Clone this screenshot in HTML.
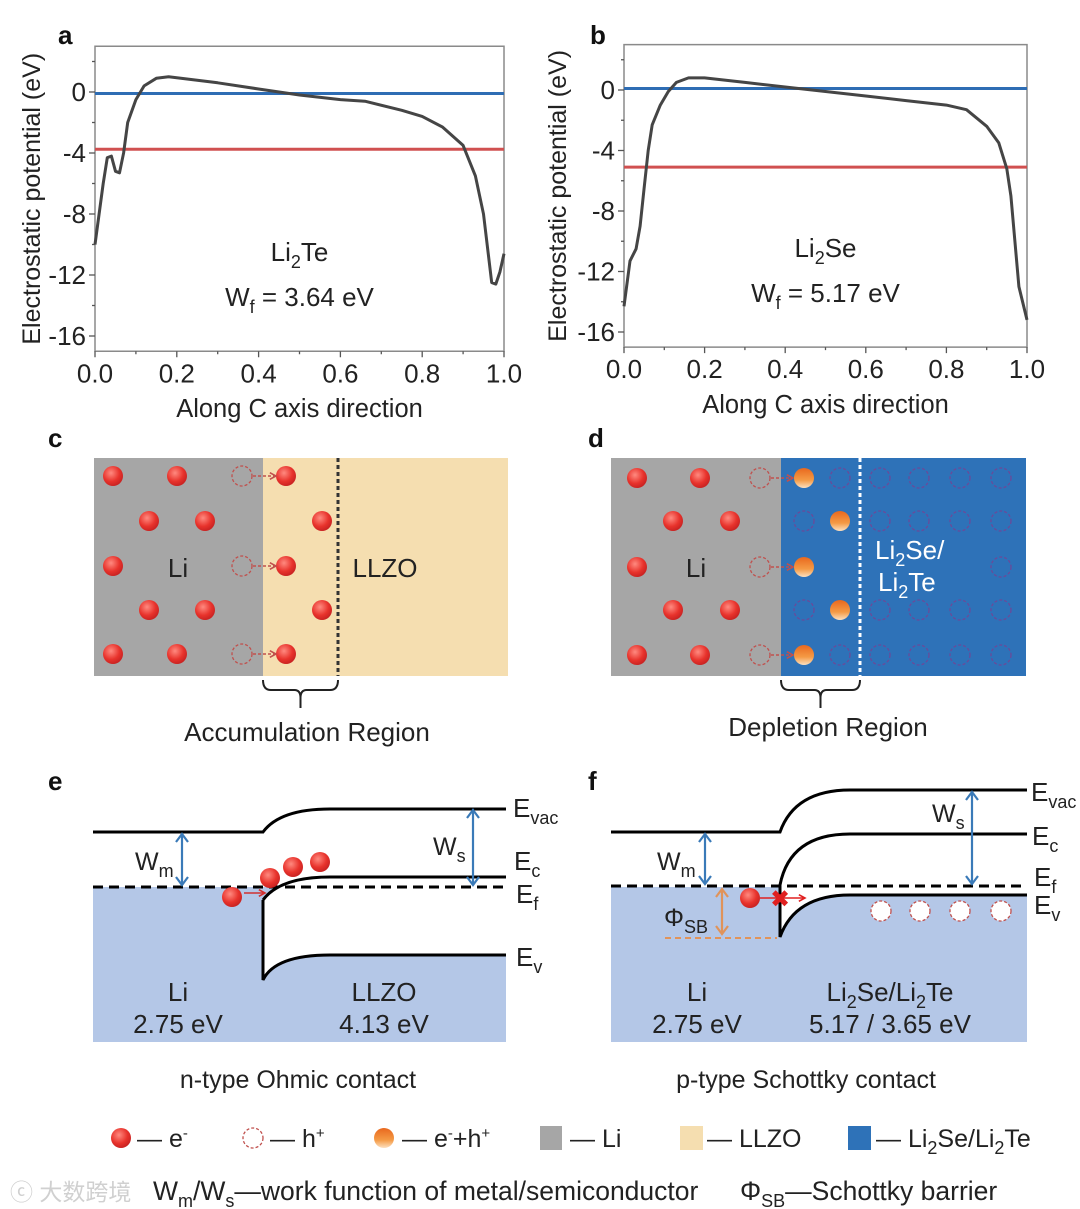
<!DOCTYPE html>
<html><head><meta charset="utf-8"><style>
body{margin:0;background:#fff;}
svg{display:block;font-family:"Liberation Sans","Noto Sans CJK SC",sans-serif;}
</style></head><body>
<svg id="fig" width="1080" height="1209" viewBox="0 0 1080 1209">
<defs>
<radialGradient id="gE" cx="0.4" cy="0.35" r="0.7"><stop offset="0" stop-color="#ff8a80"/><stop offset="0.6" stop-color="#e8332c"/><stop offset="1" stop-color="#c42020"/></radialGradient>
<linearGradient id="gO" x1="0" y1="0" x2="0" y2="1"><stop offset="0" stop-color="#e8681e"/><stop offset="0.6" stop-color="#f49a45"/><stop offset="1" stop-color="#fde0c0"/></linearGradient>
</defs>
<g id="plots"></g>
<g id="diagrams"></g>
</svg>
<script>
// ---- chart data ----
const xTicks=[0,0.2,0.4,0.6,0.8,1.0];
const xTickLabels=["0.0","0.2","0.4","0.6","0.8","1.0"];
const yTicks=[0,-4,-8,-12,-16];
const yTickLabels=["0","-4","-8","-12","-16"];
const aX=[0,0.01,0.02,0.03,0.04,0.05,0.06,0.07,0.08,0.1,0.12,0.15,0.18,0.3,0.4,0.5,0.6,0.66,0.75,0.8,0.85,0.9,0.93,0.95,0.97,0.98,0.99,1.0];
const aY=[-10,-8,-6,-4.3,-4.2,-5.2,-5.3,-4,-2,-0.5,0.4,0.9,1.0,0.6,0.2,-0.2,-0.5,-0.6,-1.2,-1.6,-2.3,-3.5,-5.5,-8,-12.5,-12.6,-11.8,-10.6];
const aBlue=-0.1, aRed=-3.75;
const bX=[0,0.015,0.03,0.04,0.05,0.06,0.07,0.09,0.11,0.13,0.16,0.2,0.3,0.4,0.5,0.6,0.7,0.8,0.85,0.9,0.93,0.95,0.96,0.97,0.98,1.0];
const bY=[-14.3,-11.3,-10.5,-9,-6.5,-4,-2.3,-1,-0.1,0.5,0.8,0.8,0.5,0.2,-0.1,-0.4,-0.7,-1,-1.3,-2.4,-3.5,-5.2,-7,-10,-13,-15.2];
const bBlue=0.1, bRed=-5.1;

const NS="http://www.w3.org/2000/svg";
function mk(parent,tag,attrs,text){const e=document.createElementNS(NS,tag);for(const k in attrs)e.setAttribute(k,attrs[k]);if(text!==undefined)e.textContent=text;parent.appendChild(e);return e;}
const plots=document.getElementById('plots');

function drawPlot(cfg){
  const g=mk(plots,'g',{});
  
  
  const sx=v=>cfg.x0+(cfg.x1-cfg.x0)*v;
  const sy=v=>cfg.y0+(cfg.y16-cfg.y0)*(v/-16);
  const top=sy(3), bot=sy(-17);
  const box=mk(g,'rect',{x:cfg.x0,y:top,width:cfg.x1-cfg.x0,height:bot-top,fill:'none',stroke:'#8a8a8a','stroke-width':1.5});
  
  
  for(let v=2;v>=-16;v-=2){
    const major=v%4===0;
    mk(g,'line',{x1:cfg.x0,x2:cfg.x0-(major?6:3),y1:sy(v),y2:sy(v),stroke:'#555','stroke-width':1.3});
  }
  yTicks.forEach((v,i)=>{
    const t=mk(g,'text',{x:cfg.x0-9,y:sy(v)+9,'text-anchor':'end','font-size':26,fill:'#222'},yTickLabels[i]);
    
    
  });
  for(let i=0;i<=10;i++){
    const v=i/10;const major=i%2===0;
    mk(g,'line',{x1:sx(v),x2:sx(v),y1:bot,y2:bot+(major?6:3),stroke:'#555','stroke-width':1.3});
  }
  xTicks.forEach((v,i)=>{
    const t=mk(g,'text',{x:sx(v),y:bot+31,'text-anchor':'middle','font-size':26,fill:'#222'},xTickLabels[i]);
    
    
  });
  const bl=mk(g,'line',{x1:cfg.x0,x2:cfg.x1,y1:sy(cfg.blue),y2:sy(cfg.blue),stroke:'#2e6db4','stroke-width':3});
  
  
  const rl=mk(g,'line',{x1:cfg.x0,x2:cfg.x1,y1:sy(cfg.red),y2:sy(cfg.red),stroke:'#d05050','stroke-width':3});
  
  
  const d=cfg.xs.map((x,i)=>(i?'L':'M')+sx(x).toFixed(1)+','+sy(cfg.ys[i]).toFixed(1)).join(' ');
  const p=mk(g,'path',{d:d,fill:'none',stroke:'#454545','stroke-width':3,'stroke-linejoin':'round'});
  
  
  const yt=mk(g,'text',{x:0,y:0,transform:`translate(${cfg.ytx},${(top+bot)/2}) rotate(-90)`,'text-anchor':'middle','font-size':25,fill:'#222'},'Electrostatic potential (eV)');
  
  
  const xt=mk(g,'text',{x:(cfg.x0+cfg.x1)/2,y:cfg.xty,'text-anchor':'middle','font-size':25.5,fill:'#222'},'Along C axis direction');
  
  
  const cx=(cfg.x0+cfg.x1)/2;
  const c1=mk(g,'text',{x:cx,y:cfg.ly,'text-anchor':'middle','font-size':26,fill:'#222'});
  c1.innerHTML='Li<tspan font-size="18" dy="7">2</tspan><tspan dy="-7">'+cfg.mat+'</tspan>';
  
  
  const c2=mk(g,'text',{x:cx,y:cfg.ly+45,'text-anchor':'middle','font-size':26,fill:'#222'});
  c2.innerHTML='W<tspan font-size="18" dy="7">f</tspan><tspan dy="-7"> = '+cfg.wf+' eV</tspan>';
  
  
  const pl=mk(g,'text',{x:cfg.labx,y:44,'font-size':26,'font-weight':'bold',fill:'#111'},cfg.letter);
  
  
}
drawPlot({name:'panel-a-chart',x0:95,x1:504,y0:92,y16:336,xs:aX,ys:aY,blue:aBlue,red:aRed,ytx:40,xty:417,ly:261,mat:'Te',wf:'3.64',letter:'a',labx:58});
drawPlot({name:'panel-b-chart',x0:624,x1:1027,y0:90,y16:332,xs:bX,ys:bY,blue:bBlue,red:bRed,ytx:566,xty:413,ly:257,mat:'Se',wf:'5.17',letter:'b',labx:590});

// ---- diagrams ----
const dg=document.getElementById('diagrams');
function el(x,y){const c=mk(dg,'circle',{cx:x,cy:y,r:10,fill:'url(#gE)'});}
function hole(x,y,col,fill){const c=mk(dg,'circle',{cx:x,cy:y,r:10,fill:fill||'none',stroke:col||'#c0504d','stroke-width':1.3,'stroke-dasharray':'3,2'});}
function oe(x,y){const c=mk(dg,'circle',{cx:x,cy:y,r:10,fill:'url(#gO)'});}
function txt(x,y,s,sz,attrs,name){const t=mk(dg,'text',Object.assign({x:x,y:y,'font-size':sz||26,fill:'#222'},attrs||{}));t.innerHTML=s;return t;}
function arr(x1,y1,x2,y2,col,dash){mk(dg,'line',{x1,y1,x2,y2,stroke:col,'stroke-width':1.6,'stroke-dasharray':dash||'none'});const a=Math.atan2(y2-y1,x2-x1);const L=7;
 mk(dg,'polyline',{points:`${x2-L*Math.cos(a-0.5)},${y2-L*Math.sin(a-0.5)} ${x2},${y2} ${x2-L*Math.cos(a+0.5)},${y2-L*Math.sin(a+0.5)}`,fill:'none',stroke:col,'stroke-width':1.6});}
function darr(x,y1,y2,col){mk(dg,'line',{x1:x,x2:x,y1:y1,y2:y2,stroke:col,'stroke-width':2.2});
 mk(dg,'polyline',{points:`${x-6},${y1+8} ${x},${y1} ${x+6},${y1+8}`,fill:'none',stroke:col,'stroke-width':2.2});
 mk(dg,'polyline',{points:`${x-6},${y2-8} ${x},${y2} ${x+6},${y2-8}`,fill:'none',stroke:col,'stroke-width':2.2});}
function brace(x1,x2,y){const m=(x1+x2)/2;mk(dg,'path',{d:`M${x1},${y} q0,10 8,10 L${m-6},${y+10} q6,0 6,8 L${m},${y+28} M${m},${y+18} q0,-8 6,-8 L${x2-8},${y+10} q8,0 8,-10`,fill:'none',stroke:'#222','stroke-width':2});}

// panel c
txt(48,447,'c',26,{'font-weight':'bold',fill:'#111'},'panel-label');
let r=mk(dg,'rect',{x:94,y:458,width:169,height:218,fill:'#a6a6a6'});
r=mk(dg,'rect',{x:263,y:458,width:245,height:218,fill:'#f5deb0'});
mk(dg,'line',{x1:338,x2:338,y1:458,y2:676,stroke:'#333','stroke-width':3,'stroke-dasharray':'4,3'});
[[113,476],[177,476],[149,521],[205,521],[113,566],[149,610],[205,610],[113,654],[177,654],[286,476],[322,521],[286,566],[322,610],[286,654]].forEach(p=>el(p[0],p[1]));
[476,566,654].forEach(y=>{hole(242,y);arr(253,y,276,y,'#c0504d','3,2');});
txt(178,577,'Li',26,{'text-anchor':'middle'});
txt(385,577,'LLZO',26,{'text-anchor':'middle'});
brace(263,338,680);
txt(307,741,'Accumulation Region',26,{'text-anchor':'middle'},'region-caption');

// panel d
txt(588,447,'d',26,{'font-weight':'bold',fill:'#111'},'panel-label');
r=mk(dg,'rect',{x:611,y:458,width:170,height:218,fill:'#a6a6a6'});
r=mk(dg,'rect',{x:781,y:458,width:245,height:218,fill:'#2e72b8'});
mk(dg,'line',{x1:860,x2:860,y1:458,y2:676,stroke:'#fff','stroke-width':3,'stroke-dasharray':'4,3'});
[[637,478],[700,478],[673,521],[730,521],[637,567],[673,610],[730,610],[637,655],[700,655]].forEach(p=>el(p[0],p[1]));
[478,567,655].forEach(y=>{hole(760,y);arr(771,y,793,y,'#c0504d','3,2');});
[[804,478],[840,521],[804,567],[840,610],[804,655]].forEach(p=>oe(p[0],p[1]));
const hb='#6a4a9a';
[[840,478],[880,478],[919,478],[960,478],[1001,478],[804,521],[880,521],[919,521],[960,521],[1001,521],[1001,567],[804,610],[880,610],[919,610],[960,610],[1001,610],[840,655],[880,655],[919,655],[960,655],[1001,655]].forEach(p=>hole(p[0],p[1],hb));
txt(696,577,'Li',26,{'text-anchor':'middle'});
txt(875,559,'Li<tspan font-size="18" dy="7">2</tspan><tspan dy="-7">Se/</tspan>',26,{fill:'#fff'});
txt(878,591,'Li<tspan font-size="18" dy="7">2</tspan><tspan dy="-7">Te</tspan>',26,{fill:'#fff'});
brace(781,860,680);
txt(828,736,'Depletion Region',26,{'text-anchor':'middle'},'region-caption');

// panel e
txt(48,790,'e',26,{'font-weight':'bold',fill:'#111'},'panel-label');
r=mk(dg,'rect',{x:93,y:887,width:413,height:155,fill:'#b4c7e7'});
mk(dg,'path',{d:'M263,887 L263,980 Q275,955 330,955 L506,955 L506,877 L330,877 Q275,877 263,900 Z',fill:'#fff'});
mk(dg,'rect',{x:263,y:800,width:243,height:87,fill:'#fff'});
mk(dg,'path',{d:'M93,832 L263,832 Q280,809 330,809 L506,809',fill:'none',stroke:'#000','stroke-width':3});
mk(dg,'path',{d:'M263,900 Q280,877 330,877 L506,877',fill:'none',stroke:'#000','stroke-width':3});
mk(dg,'path',{d:'M263,900 L263,980 Q275,955 330,955 L506,955',fill:'none',stroke:'#000','stroke-width':3});
mk(dg,'line',{x1:93,x2:506,y1:887,y2:887,stroke:'#000','stroke-width':3,'stroke-dasharray':'10,6'});
darr(182,834,885,'#3a7ab8');darr(473,810,885,'#3a7ab8');
txt(135,870,'W<tspan font-size="18" dy="7">m</tspan>',25);
txt(433,855,'W<tspan font-size="18" dy="7">s</tspan>',25);
[[232,897],[270,878],[293,867],[320,862]].forEach(p=>el(p[0],p[1]));
arr(244,893,265,893,'#d03030');
txt(513,817,'E<tspan font-size="18" dy="7">vac</tspan>',26);
txt(514,870,'E<tspan font-size="18" dy="7">c</tspan>',26);
txt(516,903,'E<tspan font-size="18" dy="7">f</tspan>',26);
txt(516,966,'E<tspan font-size="18" dy="7">v</tspan>',26);
txt(178,1001,'Li',26,{'text-anchor':'middle'});
txt(178,1033,'2.75 eV',26,{'text-anchor':'middle'});
txt(384,1001,'LLZO',26,{'text-anchor':'middle'});
txt(384,1033,'4.13 eV',26,{'text-anchor':'middle'});
txt(298,1088,'n-type Ohmic contact',25,{'text-anchor':'middle'},'contact-caption');

// panel f
txt(588,790,'f',26,{'font-weight':'bold',fill:'#111'},'panel-label');
r=mk(dg,'rect',{x:611,y:887,width:416,height:155,fill:'#b4c7e7'});
mk(dg,'path',{d:'M780,887 L780,937 Q795,895 850,895 L1027,895 L1027,887 Z',fill:'#fff'});
mk(dg,'path',{d:'M611,832 L780,832 Q795,790 850,790 L1027,790',fill:'none',stroke:'#000','stroke-width':3});
mk(dg,'path',{d:'M780,885 Q790,834 850,834 L1027,834',fill:'none',stroke:'#000','stroke-width':3});
mk(dg,'path',{d:'M780,885 L780,937 Q795,895 850,895 L1027,895',fill:'none',stroke:'#000','stroke-width':3});
mk(dg,'line',{x1:611,x2:1027,y1:886,y2:886,stroke:'#000','stroke-width':3,'stroke-dasharray':'10,6'});
mk(dg,'line',{x1:665,x2:777,y1:938,y2:938,stroke:'#e0935a','stroke-width':2,'stroke-dasharray':'6,4'});
darr(705,834,884,'#3a7ab8');darr(972,792,884,'#3a7ab8');darr(722,889,934,'#e0935a');
txt(657,870,'W<tspan font-size="18" dy="7">m</tspan>',25);
txt(932,822,'W<tspan font-size="18" dy="7">s</tspan>',25);
txt(664,926,'Φ<tspan font-size="18" dy="7">SB</tspan>',25);
el(750,898);
arr(760,898,805,898,'#e02020');
txt(780,907,'✖',24,{'text-anchor':'middle',fill:'#e02020'},'blocked-mark');
[881,920,960,1001].forEach(x=>hole(x,911,'#c0504d','#fff'));
txt(1031,801,'E<tspan font-size="18" dy="7">vac</tspan>',26);
txt(1032,845,'E<tspan font-size="18" dy="7">c</tspan>',26);
txt(1034,886,'E<tspan font-size="18" dy="7">f</tspan>',26);
txt(1034,914,'E<tspan font-size="18" dy="7">v</tspan>',26);
txt(697,1001,'Li',26,{'text-anchor':'middle'});
txt(697,1033,'2.75 eV',26,{'text-anchor':'middle'});
txt(890,1001,'Li<tspan font-size="18" dy="7">2</tspan><tspan dy="-7">Se/Li</tspan><tspan font-size="18" dy="7">2</tspan><tspan dy="-7">Te</tspan>',26,{'text-anchor':'middle'});
txt(890,1033,'5.17 / 3.65 eV',26,{'text-anchor':'middle'});
txt(806,1088,'p-type Schottky contact',25,{'text-anchor':'middle'},'contact-caption');

// legend
el(121,1138);txt(137,1147,'— e<tspan font-size="15" dy="-9">-</tspan>',25,{},'legend-entry');
hole(253,1138);txt(270,1147,'— h<tspan font-size="15" dy="-9">+</tspan>',25,{},'legend-entry');
oe(384,1138);txt(402,1147,'— e<tspan font-size="15" dy="-9">-</tspan><tspan dy="9">+h</tspan><tspan font-size="15" dy="-9">+</tspan>',25,{},'legend-entry');
mk(dg,'rect',{x:540,y:1126,width:22,height:24,fill:'#a6a6a6'});txt(570,1147,'— Li',25,{},'legend-entry');
mk(dg,'rect',{x:680,y:1126,width:23,height:24,fill:'#f5deb0'});txt(707,1147,'— LLZO',25,{},'legend-entry');
mk(dg,'rect',{x:848,y:1126,width:23,height:24,fill:'#2e72b8'});txt(876,1147,'— Li<tspan font-size="18" dy="7">2</tspan><tspan dy="-7">Se/Li</tspan><tspan font-size="18" dy="7">2</tspan><tspan dy="-7">Te</tspan>',25,{},'legend-entry');
txt(10,1200,'ⓒ 大数跨境',23,{fill:'#d0d0d0'},'watermark');
txt(153,1200,'W<tspan font-size="18" dy="7">m</tspan><tspan dy="-7">/W</tspan><tspan font-size="18" dy="7">s</tspan><tspan dy="-7">—work function of metal/semiconductor</tspan>',26.5,{},'legend-note');
txt(740,1200,'Φ<tspan font-size="18" dy="7">SB</tspan><tspan dy="-7">—Schottky barrier</tspan>',26.5,{},'legend-note');
</script>
</body></html>
